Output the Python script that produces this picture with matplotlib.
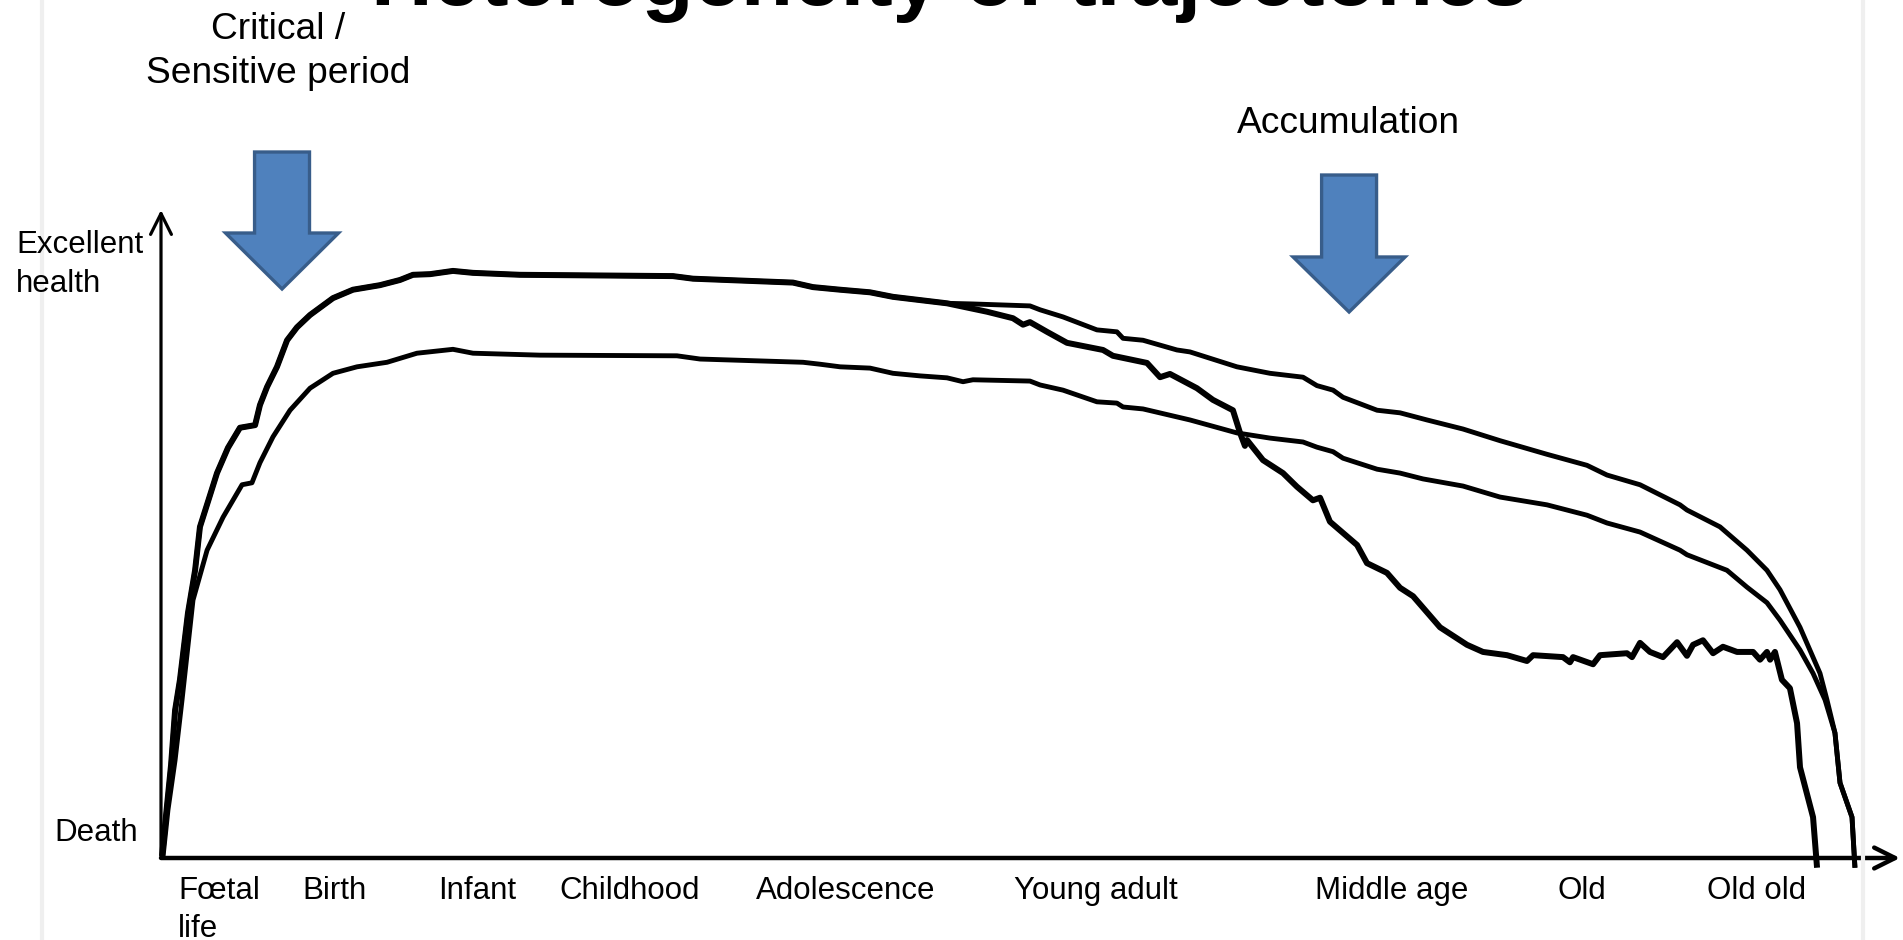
import matplotlib
matplotlib.use("Agg")
import matplotlib.pyplot as plt
import numpy as np
from matplotlib.patches import Polygon
from matplotlib.lines import Line2D

plt.rcParams['font.family'] = ['Liberation Sans', 'DejaVu Sans']

# life course position (0 = conception, 100 = end of axis) vs health (0 = death, 100 = top of axis)
upper_x = [0.06, 0.29, 0.58, 0.81, 1.09, 1.55, 1.96, 2.24, 2.82, 3.22, 3.85, 4.54, 5.41, 5.69,
           6.10, 6.67, 7.25, 7.82, 8.57, 9.89, 11.04, 12.59, 13.74, 14.49, 15.47, 16.79, 17.94,
           20.64, 29.44, 30.59, 36.34, 37.49, 39.05, 40.77, 42.09, 45.20, 46.69, 49.97, 50.55,
           51.87, 53.82, 54.97, 55.32, 56.47, 58.42, 59.17, 61.87, 63.77, 65.67, 66.47, 67.40,
           67.97, 69.93, 71.25, 72.80, 74.87, 77.00, 79.70, 82.00, 83.15, 85.05, 87.35, 87.75,
           89.65, 91.20, 92.35, 93.10, 94.25, 95.40, 95.80, 96.26, 96.55, 97.24, 97.41]
upper_y = [0.3, 6.6, 14.4, 22.8, 27.5, 37.8, 44.4, 51.1, 56.0, 59.4, 63.3, 66.4, 66.8, 69.9,
           72.7, 75.8, 79.9, 81.9, 83.8, 86.4, 87.7, 88.4, 89.2, 90.0, 90.1, 90.6, 90.3,
           90.0, 89.8, 89.4, 88.8, 88.1, 87.7, 87.3, 86.6, 85.6, 85.5, 85.2, 84.6,
           83.5, 81.5, 81.2, 80.2, 79.9, 78.4, 78.1, 75.8, 74.8, 74.2, 72.9, 72.2,
           71.1, 69.1, 68.7, 67.6, 66.2, 64.4, 62.3, 60.6, 59.1, 57.6, 54.5, 53.7,
           51.1, 47.5, 44.4, 41.4, 35.6, 28.5, 24.4, 19.3, 11.6, 6.3, -1.5]

# trajectory that leaves the upper one in young adulthood and drops to a plateau
decline_x = [47.50, 48.99, 49.57, 49.97, 50.95, 52.10, 54.17, 54.74, 56.70, 57.45, 58.02,
             59.57, 60.49, 61.64, 62.05, 62.33, 62.45, 63.37, 64.52, 65.32, 66.24, 66.65,
             67.22, 68.78, 69.35, 70.50, 71.25, 72.00, 73.55, 75.10, 76.02, 77.40, 78.55,
             78.90, 80.62, 81.02, 81.20, 82.35, 82.75, 84.30, 84.59, 85.05, 85.62, 86.37,
             87.18, 87.75, 88.10, 88.67, 89.25, 89.82, 90.63, 91.55, 91.95, 92.35, 92.53,
             92.81, 93.21, 93.67, 94.08, 94.25, 95.00, 95.23]
decline_y = [84.3, 83.3, 82.3, 82.7, 81.2, 79.5, 78.4, 77.5, 76.4, 74.2, 74.7,
             72.5, 70.7, 69.1, 65.6, 63.6, 64.5, 61.4, 59.4, 57.3, 55.2, 55.6,
             51.9, 48.3, 45.5, 44.0, 41.7, 40.4, 35.6, 32.9, 31.8, 31.3, 30.4,
             31.3, 31.0, 30.2, 31.0, 29.9, 31.3, 31.6, 31.0, 33.2, 31.8, 31.0,
             33.3, 31.2, 32.9, 33.6, 31.6, 32.6, 31.8, 31.8, 30.6, 31.8, 30.6,
             31.8, 27.5, 26.2, 20.8, 14.0, 6.3, -1.5]

lower_x = [0.12, 0.40, 0.81, 1.21, 1.84, 2.65, 3.57, 4.66, 5.23, 5.69, 6.44, 7.42, 8.57,
           9.89, 11.27, 13.00, 14.72, 16.79, 17.94, 21.79, 29.67, 31.00, 36.92, 37.90, 39.05,
           40.77, 42.09, 43.65, 45.20, 46.12, 46.69, 49.97, 50.55, 51.87, 53.82, 54.97, 55.32,
           56.47, 59.17, 61.87, 63.77, 65.67, 66.47, 67.40, 67.97, 69.93, 71.25, 72.57, 74.87,
           77.00, 79.70, 82.00, 83.15, 85.05, 87.35, 87.75, 90.05, 91.20, 92.35, 93.10, 94.25,
           95.00, 95.69, 96.26, 96.55, 97.24, 97.41]
lower_y = [0.3, 7.4, 15.1, 24.4, 39.8, 47.5, 52.6, 57.6, 57.9, 61.0, 65.0, 69.1, 72.5,
           74.8, 75.8, 76.5, 77.9, 78.5, 77.9, 77.6, 77.5, 77.0, 76.5, 76.2, 75.8,
           75.6, 74.8, 74.4, 74.1, 73.5, 73.8, 73.6, 73.0, 72.2, 70.4, 70.2, 69.6,
           69.3, 67.6, 65.6, 64.8, 64.2, 63.4, 62.7, 61.7, 60.0, 59.4, 58.5, 57.4,
           55.7, 54.5, 52.9, 51.7, 50.3, 47.5, 46.8, 44.4, 41.8, 39.4, 36.7, 32.1,
           28.5, 24.4, 19.3, 11.6, 6.3, -1.5]

stage_labels = ["Birth", "Infant", "Childhood", "Adolescence", "Young adult",
                "Middle age", "Old", "Old old"]
stage_pos = [9.95, 18.17, 26.97, 39.39, 53.77, 70.79, 81.71, 91.78]

W, H = 1903, 940
fig = plt.figure(figsize=(W / 100, H / 100), dpi=100)
ax = fig.add_axes([161 / W, 1 - 858 / H, (1900 - 161) / W, (858 - 210) / H])
ax.set_xlim(0, 100)
ax.set_ylim(0, 100)
ax.axis('off')

# faint slide edges
fig.add_artist(Line2D([42 / W, 42 / W], [0, 1], color='#efefef', lw=3))
fig.add_artist(Line2D([1863 / W, 1863 / W], [0, 1], color='#efefef', lw=3))

# trajectories
ux, uy = np.array(upper_x), np.array(upper_y)
share = ux <= 45.2
dx = np.concatenate([ux[share], decline_x])
dy = np.concatenate([uy[share], decline_y])
kw = dict(color='black', clip_on=False, solid_joinstyle='round', solid_capstyle='butt')
ax.plot(lower_x, lower_y, lw=3.5, **kw)
ax.plot(ux, uy, lw=3.5, **kw)
ax.plot(dx, dy, lw=4.3, **kw)

# axes with arrows
arr = dict(arrowstyle='->,head_length=1.5,head_width=0.75', color='black',
           shrinkA=0, shrinkB=0, mutation_scale=10)
ax.annotate('', xy=(100, 0), xytext=(0, 0), arrowprops=dict(lw=3.2, **arr), annotation_clip=False)
ax.annotate('', xy=(0, 100), xytext=(0, 0), arrowprops=dict(lw=2.3, **arr), annotation_clip=False)

# stage labels along the life course
lab_y = (858 - 899) / 648
ax.text(0.98, lab_y, "F\u0153tal", ha='left', va='baseline', fontsize=22.5,
        transform=ax.get_xaxis_transform())
ax.text(0.98, (858 - 937) / 648, "life", ha='left', va='baseline', fontsize=22.5,
        transform=ax.get_xaxis_transform())
for p, s in zip(stage_pos, stage_labels):
    ax.text(p, lab_y, s, ha='center', va='baseline', fontsize=22.5,
            transform=ax.get_xaxis_transform())

# health scale labels
fig.text(16 / W, 1 - 253 / H, "Excellent", ha='left', va='baseline', fontsize=22.5)
fig.text(16 / W, 1 - 292 / H, "health", ha='left', va='baseline', fontsize=22.5)
fig.text(54 / W, 1 - 841 / H, "Death", ha='left', va='baseline', fontsize=22.5)


def block_arrow(xc, top, head_top, tip, shaft_hw, head_hw):
    pts = [(xc - shaft_hw, top), (xc + shaft_hw, top), (xc + shaft_hw, head_top),
           (xc + head_hw, head_top), (xc, tip), (xc - head_hw, head_top),
           (xc - shaft_hw, head_top)]
    ax.add_patch(Polygon(pts, closed=True, facecolor='#4F81BD', edgecolor='#385D8A',
                         lw=2.4, joinstyle='miter', clip_on=False))


block_arrow(6.96, 108.95, 96.45, 87.81, 1.58, 3.25)
block_arrow(68.32, 105.4, 92.75, 84.26, 1.58, 3.22)

fig.text(278 / W, 1 - 39 / H, "Critical /", ha='center', va='baseline', fontsize=26.7)
fig.text(278 / W, 1 - 83 / H, "Sensitive period", ha='center', va='baseline', fontsize=26.7)
fig.text(1348 / W, 1 - 133 / H, "Accumulation", ha='center', va='baseline', fontsize=26.7)

# slide title, mostly cut off at the top edge
fig.text(950 / W, 1 - 5 / H, "Heterogeneity of trajectories", ha='center', va='baseline',
         fontsize=61.5, fontweight='bold')

fig.savefig("out.png", dpi=100)
